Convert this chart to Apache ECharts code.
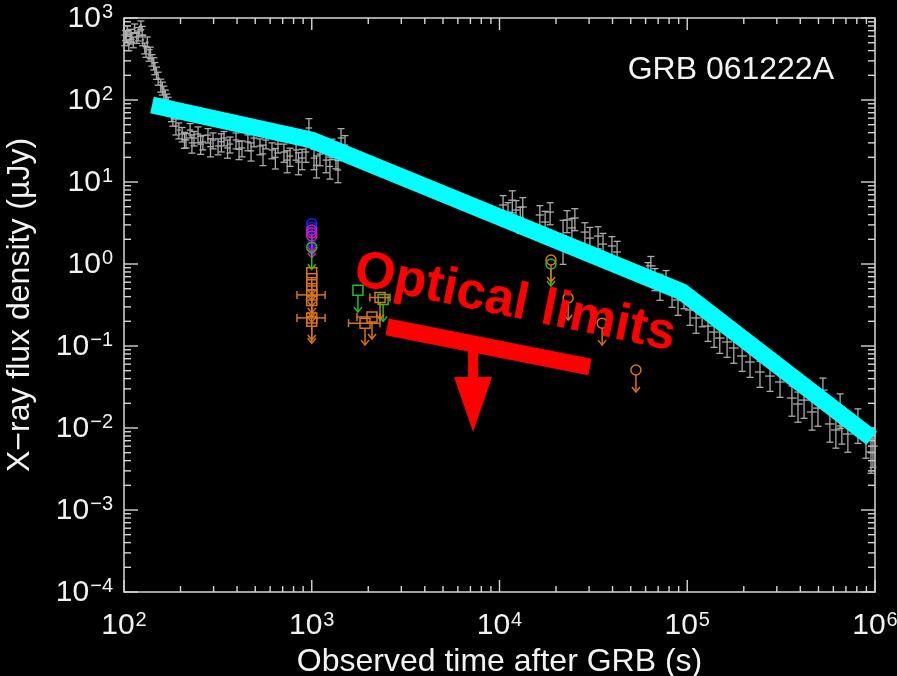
<!DOCTYPE html>
<html>
<head>
<meta charset="utf-8">
<script src="https://cdn.jsdelivr.net/npm/echarts@6/dist/echarts.min.js"></script>
<style>
  html, body { margin: 0; padding: 0; background: #000; }
  #chart { width: 897px; height: 676px; }
</style>
</head>
<body>
<div id="chart"></div>
<script>
// ---- Axis decades (powers of ten shown as tick labels) ----
const xDecades = [2, 3, 4, 5, 6];
const yDecades = [-4, -3, -2, -1, 0, 1, 2, 3];

// ---- Swift/XRT light curve: time (s), flux density (µJy),
//      fractional flux error, fractional time half-width ----
const xrtTime = [
  101, 102, 103, 104, 106, 108, 109, 110, 112, 114, 117, 119, 120, 123, 125, 126, 129, 131, 133, 136,
  138, 141, 144, 146, 149, 152, 157, 160, 163, 166, 169, 172, 176, 179, 182, 189, 196,
  204, 210, 214, 225, 230, 236, 248, 256, 263, 280, 289, 298, 317, 330, 341, 356, 367, 395, 410, 425,
  457, 475, 492, 530, 550, 570, 614, 640, 661, 711, 740, 766, 825, 850, 888, 931, 966, 1028, 1060, 1106,
  1191, 1250, 1282, 1346, 1380, 1432, 1503,
  10450, 11100, 11700, 12250, 12900, 13300, 16400, 17500, 18600, 21800, 22900, 24300, 25200, 28500,
  30300, 33500, 35600, 39700, 42300,
  61800, 64000, 67300, 71600, 77100, 83000, 89300, 96100, 103500, 111500, 120000, 129000, 139000,
  149000, 163000, 177000, 196000, 216000, 244000, 276000, 312000, 361000, 389000, 419000, 462000,
  497000, 528000, 575000, 619000, 652000, 666000, 717000, 811000, 895000, 952000, 975000
];
const xrtFlux = [
  540, 620, 600, 714, 469, 560, 638, 580, 510, 755, 570, 610, 675, 822, 700, 540, 430, 390, 510, 354,
  380, 308, 280, 245, 215, 185, 152, 140, 125, 112, 100, 90, 80, 68, 60, 48, 43,
  38.5, 33, 32.5, 43, 30, 34.4, 38.5, 29, 30.8, 37.4, 27, 32.5, 27.5, 31, 34.4, 26, 29, 32.5, 25, 26,
  30.8, 24, 34.4, 27.5, 22, 32.5, 24.6, 20, 29, 23.2, 18.5, 20.7, 24.6, 17.5, 19.6, 23.2, 45.6, 19.6, 16, 21.9,
  18.5, 15.5, 26, 20.7, 14, 34.4, 28.3,
  5.25, 4.3, 6.0, 4.56, 3.64, 4.96, 3.96, 3.25, 4.3, 2.2, 3.44, 2.75, 3.64, 2.45,
  2.07, 2.19, 1.75, 1.66, 1.40,
  0.80, 0.95, 0.675, 0.555, 0.64, 0.456, 0.364, 0.407, 0.275, 0.22, 0.245, 0.175, 0.148,
  0.125, 0.112, 0.0946, 0.0755, 0.0638, 0.0482, 0.043, 0.0364, 0.0232, 0.0196, 0.0219, 0.0157,
  0.0175, 0.029, 0.0112, 0.00946, 0.018, 0.0106, 0.00845, 0.0118, 0.00714, 0.0051, 0.006
];
const xrtFluxErr = [
  0.15, 0.14, 0.14, 0.12, 0.15, 0.14, 0.14, 0.14, 0.15, 0.12, 0.14, 0.14, 0.13, 0.12, 0.13, 0.15, 0.15, 0.15, 0.15, 0.16,
  0.16, 0.16, 0.17, 0.17, 0.17, 0.18, 0.18, 0.18, 0.18, 0.18, 0.18, 0.2, 0.2, 0.2, 0.2, 0.22, 0.22,
  0.2, 0.22, 0.2, 0.2, 0.25, 0.2, 0.22, 0.25, 0.2, 0.2, 0.25, 0.22, 0.22, 0.25, 0.2, 0.25, 0.22, 0.22, 0.25, 0.22,
  0.22, 0.25, 0.22, 0.22, 0.28, 0.22, 0.22, 0.28, 0.22, 0.25, 0.3, 0.25, 0.25, 0.3, 0.28, 0.25, 0.3, 0.28, 0.3, 0.28,
  0.3, 0.3, 0.28, 0.3, 0.3, 0.3, 0.3,
  0.3, 0.3, 0.3, 0.3, 0.35, 0.3, 0.3, 0.35, 0.3, 0.55, 0.3, 0.3, 0.3, 0.3,
  0.35, 0.3, 0.35, 0.3, 0.35,
  0.3, 0.3, 0.3, 0.35, 0.3, 0.35, 0.35, 0.3, 0.35, 0.35, 0.3, 0.35, 0.35,
  0.35, 0.35, 0.35, 0.35, 0.35, 0.35, 0.35, 0.35, 0.4, 0.4, 0.4, 0.4,
  0.4, 0.4, 0.4, 0.4, 0.45, 0.4, 0.4, 0.45, 0.4, 0.45, 0.45
];
const xrtTimeErr = [
  0.015, 0.015, 0.015, 0.015, 0.015, 0.015, 0.015, 0.015, 0.015, 0.015, 0.015, 0.015, 0.015, 0.015, 0.015, 0.015, 0.015, 0.015, 0.015, 0.015,
  0.015, 0.02, 0.02, 0.02, 0.02, 0.02, 0.02, 0.02, 0.02, 0.02, 0.02, 0.02, 0.02, 0.02, 0.02, 0.025, 0.025,
  0.04, 0.04, 0.04, 0.04, 0.04, 0.04, 0.04, 0.04, 0.04, 0.04, 0.04, 0.04, 0.04, 0.04, 0.04, 0.04, 0.04, 0.04, 0.04, 0.04,
  0.04, 0.04, 0.04, 0.04, 0.04, 0.04, 0.04, 0.04, 0.04, 0.04, 0.04, 0.04, 0.04, 0.04, 0.04, 0.04, 0.04, 0.04, 0.04, 0.04,
  0.04, 0.04, 0.04, 0.04, 0.04, 0.04, 0.04,
  0.05, 0.05, 0.05, 0.05, 0.05, 0.05, 0.05, 0.05, 0.05, 0.05, 0.05, 0.05, 0.05, 0.05,
  0.05, 0.05, 0.05, 0.05, 0.05,
  0.06, 0.06, 0.06, 0.06, 0.06, 0.06, 0.06, 0.06, 0.06, 0.06, 0.06, 0.06, 0.06,
  0.06, 0.06, 0.06, 0.06, 0.06, 0.06, 0.06, 0.06, 0.06, 0.06, 0.06, 0.06,
  0.06, 0.06, 0.06, 0.06, 0.06, 0.06, 0.06, 0.06, 0.06, 0.06, 0.06
];

// ---- Broken power-law model through the X-ray data ----
const modelTime = [141, 1000, 94000, 960000];
const modelFlux = [87, 32.5, 0.456, 0.00755];

// ---- Optical upper limits: time (s), flux density (µJy), time range, filter, instrument ----
const optTime = [1000, 1000, 1000, 1000, 1000, 1000,
                 1000, 1000, 1000, 1000, 1000, 1000, 1000, 1000,
                 1762, 2400, 2310, 2094, 1922,
                 18800, 18800, 23200, 35200, 53300];
const optFlux = [3.1, 2.8, 2.6, 2.4, 2.2, 1.6,
                 0.78, 0.66, 0.56, 0.47, 0.42, 0.36, 0.22, 0.2,
                 0.48, 0.37, 0.39, 0.226, 0.19,
                 1.0, 1.12, 0.385, 0.19, 0.051];
const optTimeLo = [null, null, null, null, null, null,
                   null, null, null, null, 834, null, 834, null,
                   null, null, 2040, 1740, 1570,
                   null, null, null, null, null];
const optTimeHi = [null, null, null, null, null, null,
                   null, null, null, null, 1178, null, 1178, null,
                   null, null, 2610, 2310, 2310,
                   null, null, null, null, null];
const optFilter = ['uvw2', 'uvw2', 'uvm2', 'uvm2', 'uvm2', 'v',
                   'R', 'R', 'R', 'R', 'R', 'R', 'R', 'R',
                   'V', 'V', 'R', 'R', 'R',
                   'v', 'R', 'R', 'R', 'R'];
const optInstrument = ['uvot', 'uvot', 'uvot', 'uvot', 'uvot', 'uvot',
                       'ground', 'ground', 'ground', 'ground', 'ground', 'ground', 'ground', 'ground',
                       'ground', 'ground', 'ground', 'ground', 'ground',
                       'uvot', 'uvot', 'uvot', 'uvot', 'uvot'];

// ---- "Optical limits" annotation anchors (time, flux) ----
const limitBar = [[2520, 0.171], [30300, 0.0555]];
const limitArrow = [[7230, 0.106], [7230, 0.0419], [7230, 0.00893]];
const limitLabelAt = [12100, 0.334];
const limitLabel = 'Optical limits';
const burstName = 'GRB 061222A';

// ---- Styling ----
const FONT = "'Liberation Sans', Arial, Helvetica, sans-serif";
const AXIS_COLOR = '#d6d6d6';
const TEXT_COLOR = '#f2f2f2';
const XRT_COLOR = '#ababab';
const MODEL_COLOR = '#00ffff';
const LIMIT_COLOR = '#ff0000';
const FILTER_COLORS = { uvw2: '#2222ee', uvm2: '#c41fc4', v: '#22c022', V: '#22c022', R: '#d8731a' };

const X_MIN = 1e2, X_MAX = 1e6, Y_MIN = 1e-4, Y_MAX = 1e3;

function expLabel(v) {
  const e = Math.round(Math.log10(v));
  return '{b|10}{s|' + (e < 0 ? '\u2212' + (-e) : String(e)) + '}';
}
const labelRich = {
  b: { fontSize: 30, fontFamily: FONT, color: TEXT_COLOR, lineHeight: 31, padding: [4, 0, 0, 0], verticalAlign: 'bottom' },
  s: { fontSize: 20, fontFamily: FONT, color: TEXT_COLOR, lineHeight: 18, verticalAlign: 'top', padding: [0, 0, 0, 1] }
};

// Inward ticks on all four sides, with log minor ticks at 2..9
function renderFrame(params, api) {
  const cs = params.coordSys;
  const left = cs.x, right = cs.x + cs.width, top = cs.y, bottom = cs.y + cs.height;
  const children = [];
  const seg = (x1, y1, x2, y2) => children.push({
    type: 'line', shape: { x1, y1, x2, y2 },
    style: { stroke: AXIS_COLOR, lineWidth: 1.4 }
  });
  xDecades.forEach((e, i) => {
    const px = api.coord([Math.pow(10, e), Y_MIN])[0];
    seg(px, bottom, px, bottom - 12);
    seg(px, top, px, top + 12);
    if (i < xDecades.length - 1) {
      for (let m = 2; m <= 9; m++) {
        const q = api.coord([m * Math.pow(10, e), Y_MIN])[0];
        seg(q, bottom, q, bottom - 6);
        seg(q, top, q, top + 6);
      }
    }
  });
  yDecades.forEach((e, i) => {
    const py = api.coord([X_MIN, Math.pow(10, e)])[1];
    seg(left, py, left + 14, py);
    seg(right, py, right - 14, py);
    if (i < yDecades.length - 1) {
      for (let m = 2; m <= 9; m++) {
        const q = api.coord([X_MIN, m * Math.pow(10, e)])[1];
        seg(left, q, left + 7, q);
        seg(right, q, right - 7, q);
      }
    }
  });
  return { type: 'group', children };
}

// Grey X-ray points drawn as error-bar crosses with end caps
function renderXrt(params, api) {
  const t = api.value(0), f = api.value(1), fe = api.value(2), te = api.value(3);
  const c = api.coord([t, f]);
  const top = api.coord([t, f * (1 + fe)])[1];
  const bot = api.coord([t, f * (1 - fe)])[1];
  const l = api.coord([t * (1 - te), f])[0];
  const r = api.coord([t * (1 + te), f])[0];
  const style = { stroke: XRT_COLOR, lineWidth: 1.3 };
  const cap = 3.5;
  return {
    type: 'group',
    children: [
      { type: 'line', shape: { x1: c[0], y1: top, x2: c[0], y2: bot }, style },
      { type: 'line', shape: { x1: c[0] - cap, y1: top, x2: c[0] + cap, y2: top }, style },
      { type: 'line', shape: { x1: c[0] - cap, y1: bot, x2: c[0] + cap, y2: bot }, style },
      { type: 'line', shape: { x1: l, y1: c[1], x2: r, y2: c[1] }, style }
    ]
  };
}

// Optical upper limits: open circle/square, optional time bar, downward arrow
function renderLimit(params, api) {
  const i = api.value(2);
  const c = api.coord([optTime[i], optFlux[i]]);
  const color = FILTER_COLORS[optFilter[i]];
  const style = { stroke: color, fill: null, lineWidth: 1.5 };
  const children = [];
  if (optInstrument[i] === 'uvot') {
    children.push({ type: 'circle', shape: { cx: c[0], cy: c[1], r: 5 }, style });
  } else {
    children.push({ type: 'rect', shape: { x: c[0] - 5, y: c[1] - 5, width: 10, height: 10 }, style });
  }
  if (optTimeLo[i] != null) {
    const l = api.coord([optTimeLo[i], optFlux[i]])[0];
    const r = api.coord([optTimeHi[i], optFlux[i]])[0];
    children.push({ type: 'line', shape: { x1: l, y1: c[1], x2: r, y2: c[1] }, style });
    children.push({ type: 'line', shape: { x1: l, y1: c[1] - 4, x2: l, y2: c[1] + 4 }, style });
    children.push({ type: 'line', shape: { x1: r, y1: c[1] - 4, x2: r, y2: c[1] + 4 }, style });
  }
  const tip = c[1] + 22;
  children.push({ type: 'line', shape: { x1: c[0], y1: c[1] + 5, x2: c[0], y2: tip }, style });
  children.push({ type: 'polyline', shape: { points: [[c[0] - 4, tip - 5], [c[0], tip], [c[0] + 4, tip - 5]] }, style });
  return { type: 'group', children };
}

// Red "Optical limits" bar, arrow and label
function renderAnnotation(params, api) {
  const a = api.coord(limitBar[0]), b = api.coord(limitBar[1]);
  const s = api.coord(limitArrow[0]), h = api.coord(limitArrow[1]), tip = api.coord(limitArrow[2]);
  const lab = api.coord(limitLabelAt);
  const ang = Math.atan2(b[1] - a[1], b[0] - a[0]);
  return {
    type: 'group',
    children: [
      { type: 'line', shape: { x1: a[0], y1: a[1], x2: b[0], y2: b[1] },
        style: { stroke: LIMIT_COLOR, lineWidth: 17, lineCap: 'butt' } },
      { type: 'line', shape: { x1: s[0], y1: s[1], x2: h[0], y2: h[1] + 1 },
        style: { stroke: LIMIT_COLOR, lineWidth: 10, lineCap: 'butt' } },
      { type: 'polygon', shape: { points: [[h[0] - 19, h[1]], [h[0] + 19, h[1]], [tip[0], tip[1]]] },
        style: { fill: LIMIT_COLOR } },
      { type: 'text', x: lab[0], y: lab[1], rotation: -ang * 1.05,
        style: { text: limitLabel, fill: LIMIT_COLOR, fontSize: 52, fontWeight: 'bold',
                 fontFamily: FONT, align: 'center', verticalAlign: 'middle' } }
    ]
  };
}

const chart = echarts.init(document.getElementById('chart'), null, { renderer: 'canvas' });

chart.setOption({
  backgroundColor: '#000',
  animation: false,
  title: {
    text: burstName, right: 58, top: 49,
    textStyle: { color: TEXT_COLOR, fontSize: 32, fontWeight: 'normal', fontFamily: FONT }
  },
  grid: {
    left: 124, right: 22, top: 18, bottom: 84,
    outerBoundsMode: 'none', containLabel: false,
    show: true, borderColor: AXIS_COLOR, borderWidth: 1.5, backgroundColor: '#000'
  },
  xAxis: {
    type: 'log', logBase: 10, min: X_MIN, max: X_MAX, interval: 1,
    name: 'Observed time after GRB (s)', nameLocation: 'middle', nameGap: 54,
    nameTextStyle: { color: TEXT_COLOR, fontSize: 32, fontFamily: FONT },
    axisLine: { show: false }, axisTick: { show: false }, splitLine: { show: false },
    axisLabel: { formatter: expLabel, rich: labelRich, margin: 18, color: TEXT_COLOR }
  },
  yAxis: {
    type: 'log', logBase: 10, min: Y_MIN, max: Y_MAX, interval: 1,
    name: 'X\u2212ray flux density (\u00b5Jy)', nameLocation: 'middle', nameGap: 88,
    nameTextStyle: { color: TEXT_COLOR, fontSize: 32, fontFamily: FONT },
    axisLine: { show: false }, axisTick: { show: false }, splitLine: { show: false },
    axisLabel: { formatter: expLabel, rich: labelRich, margin: 11, color: TEXT_COLOR }
  },
  series: [
    {
      type: 'custom', name: 'frame', renderItem: renderFrame,
      data: [[X_MIN, Y_MIN]], z: 1, silent: true
    },
    {
      type: 'custom', name: 'XRT', renderItem: renderXrt, z: 2, silent: true,
      data: xrtTime.map((t, i) => [t, xrtFlux[i], xrtFluxErr[i], xrtTimeErr[i]])
    },
    {
      type: 'custom', name: 'optical', renderItem: renderLimit, z: 3, silent: true,
      data: optTime.map((t, i) => [t, optFlux[i], i])
    },
    {
      type: 'line', name: 'model', z: 4, silent: true, symbol: 'none',
      data: modelTime.map((t, i) => [t, modelFlux[i]]),
      lineStyle: { color: MODEL_COLOR, width: 17, cap: 'butt', join: 'miter' }
    },
    {
      type: 'custom', name: 'annotation', renderItem: renderAnnotation, z: 5, silent: true,
      data: [limitLabelAt]
    }
  ]
});
</script>
</body>
</html>
